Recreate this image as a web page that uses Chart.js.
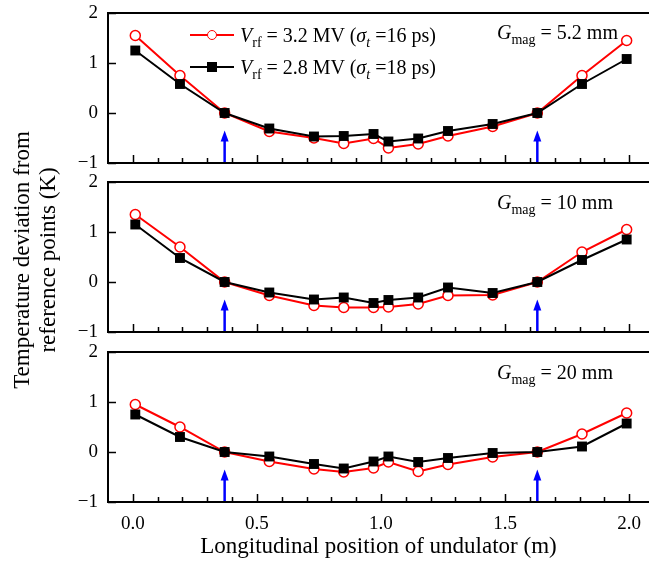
<!DOCTYPE html>
<html>
<head>
<meta charset="utf-8">
<script src="https://cdn.jsdelivr.net/npm/chart.js@4.4.1/dist/chart.umd.min.js"></script>
<style>
  html, body { margin:0; padding:0; background:#fff; }
  #wrap { position:relative; width:649px; height:563px; overflow:hidden; font-family:"Liberation Serif","Times New Roman",serif; color:#000; }
  canvas.pc { position:absolute; left:0; }
  .ann { position:absolute; font-size:20px; line-height:22px; white-space:nowrap; }
  .ann sub { font-size:14px; vertical-align:-5px; line-height:0; }
  .leg { position:absolute; left:190px; height:22px; font-size:20px; line-height:22px; white-space:nowrap; }
  .sample { position:absolute; left:0; top:0; width:44px; height:22px; }
  .sample .ln { position:absolute; left:0; top:10px; width:44px; height:2px; }
  .sample .mk { position:absolute; box-sizing:border-box; }
  .leg .txt { position:absolute; left:50px; top:0; }
  .leg sub { font-size:14px; vertical-align:-5px; line-height:0; }
  #ytitle { position:absolute; left:35px; top:260px; width:360px; transform:translate(-50%,-50%) rotate(-90deg); text-align:center; font-size:23px; line-height:26px; white-space:nowrap; }
</style>
</head>
<body>
<div id="wrap">
  <canvas id="c1" class="pc" width="649" height="175" style="top:0px;width:649px;height:175px"></canvas>
  <canvas id="c2" class="pc" width="649" height="175" style="top:169px;width:649px;height:175px"></canvas>
  <canvas id="c3" class="pc" width="649" height="224" style="top:339px;width:649px;height:224px"></canvas>

  <div class="leg" style="top:24px">
    <div class="sample"><div class="ln" style="background:#ff0000"></div><div class="mk" style="left:17px;top:6px;width:10px;height:10px;border:1.5px solid #ff0000;border-radius:50%;background:#fff"></div></div>
    <span class="txt"><i>V</i><sub>rf</sub> = 3.2 MV (<i>σ<sub>t</sub></i> =16 ps)</span>
  </div>
  <div class="leg" style="top:56px">
    <div class="sample"><div class="ln" style="background:#000"></div><div class="mk" style="left:17px;top:6px;width:10px;height:10px;background:#000"></div></div>
    <span class="txt"><i>V</i><sub>rf</sub> = 2.8 MV (<i>σ<sub>t</sub></i> =18 ps)</span>
  </div>

  <div class="ann" id="g1" style="left:497px;top:21px"></div>
  <div class="ann" id="g2" style="left:497px;top:191px"></div>
  <div class="ann" id="g3" style="left:497px;top:361px"></div>

  <div id="ytitle">Temperature deviation from<br>reference points (K)</div>
</div>
<script>
// ---------------- data ----------------
const xPositions = [0.01, 0.19, 0.37, 0.55, 0.73, 0.85, 0.97, 1.03, 1.15, 1.27, 1.45, 1.63, 1.81, 1.99];

const gapLabels = ["5.2 mm", "10 mm", "20 mm"];

// Vrf = 3.2 MV (sigma_t = 16 ps), red open circles
const red_G5_2 = [1.55, 0.75, 0, -0.37, -0.50, -0.61, -0.51, -0.70, -0.62, -0.46, -0.27, 0, 0.75, 1.45];
const red_G10  = [1.35, 0.70, 0, -0.27, -0.47, -0.51, -0.51, -0.50, -0.44, -0.27, -0.26, 0, 0.60, 1.05];
const red_G20  = [0.95, 0.50, 0, -0.19, -0.34, -0.40, -0.32, -0.20, -0.39, -0.25, -0.10, 0, 0.36, 0.78];

// Vrf = 2.8 MV (sigma_t = 18 ps), black filled squares
const blk_G5_2 = [1.25, 0.58, 0, -0.31, -0.47, -0.46, -0.42, -0.57, -0.51, -0.36, -0.22, 0, 0.58, 1.08];
const blk_G10  = [1.15, 0.48, 0, -0.21, -0.35, -0.31, -0.42, -0.36, -0.31, -0.11, -0.22, 0, 0.44, 0.85];
const blk_G20  = [0.75, 0.30, 0, -0.09, -0.24, -0.33, -0.19, -0.09, -0.20, -0.12, -0.02, 0, 0.11, 0.57];

const redLabel = "Vrf = 3.2 MV (σt =16 ps)";
const blkLabel = "Vrf = 2.8 MV (σt =18 ps)";

// reference points (blue arrows)
const arrowX = [0.37, 1.63];
const arrowTip = -0.35;

const xTickValues = [0.0, 0.5, 1.0, 1.5, 2.0];
const yTickValues = [-1, 0, 1, 2];
const xTitle = "Longitudinal position of undulator (m)";

// --------------- rendering ---------------
document.getElementById('g1').innerHTML = '<i>G</i><sub>mag</sub> = ' + gapLabels[0];
document.getElementById('g2').innerHTML = '<i>G</i><sub>mag</sub> = ' + gapLabels[1];
document.getElementById('g3').innerHTML = '<i>G</i><sub>mag</sub> = ' + gapLabels[2];

const FONT = "'Liberation Serif', 'Times New Roman', serif";

function pts(ys) { return xPositions.map((x, i) => ({x: x, y: ys[i]})); }

const framePlugin = {
  id: 'frame',
  afterDatasetsDraw(chart) {
    const {ctx, chartArea: a, scales: {x, y}} = chart;
    ctx.save();
    // blue arrows
    ctx.strokeStyle = '#0000ff';
    ctx.fillStyle = '#0000ff';
    ctx.lineWidth = 2.5;
    arrowX.forEach(v => {
      const px = x.getPixelForValue(v);
      const tip = y.getPixelForValue(arrowTip);
      ctx.beginPath();
      ctx.moveTo(px, a.bottom);
      ctx.lineTo(px, tip + 8);
      ctx.stroke();
      ctx.beginPath();
      ctx.moveTo(px, tip);
      ctx.lineTo(px - 4, tip + 11);
      ctx.lineTo(px + 4, tip + 11);
      ctx.closePath();
      ctx.fill();
    });
    // frame
    ctx.strokeStyle = '#000';
    ctx.lineWidth = 2;
    ctx.beginPath();
    ctx.moveTo(a.right + 2, a.top);
    ctx.lineTo(a.left, a.top);
    ctx.lineTo(a.left, a.bottom);
    ctx.lineTo(a.right + 2, a.bottom);
    ctx.stroke();
    // inward ticks
    ctx.lineWidth = 1.5;
    ctx.beginPath();
    for (let k = 0; k <= 20; k++) {
      const v = k / 10;
      const px = Math.round(x.getPixelForValue(v)) + 0.5;
      const len = (k % 5 === 0) ? 8 : 5;
      ctx.moveTo(px, a.bottom);
      ctx.lineTo(px, a.bottom - len);
    }
    yTickValues.forEach(v => {
      const py = Math.round(y.getPixelForValue(v)) + 0.5;
      ctx.moveTo(a.left, py);
      ctx.lineTo(a.left + 8, py);
    });
    ctx.stroke();
    ctx.restore();
  }
};

function makePanel(id, redYs, blkYs, isBottom) {
  const canvas = document.getElementById(id);
  return new Chart(canvas, {
    type: 'scatter',
    data: {
      datasets: [
        {
          label: blkLabel,
          data: pts(blkYs),
          showLine: true,
          borderColor: '#000000',
          backgroundColor: '#000000',
          borderWidth: 2,
          pointStyle: 'rect',
          pointRadius: 7,
          pointBorderWidth: 0,
          pointBackgroundColor: '#000000',
          clip: false,
          order: 0
        },
        {
          label: redLabel,
          data: pts(redYs),
          showLine: true,
          borderColor: '#ff0000',
          backgroundColor: '#ffffff',
          borderWidth: 2,
          pointStyle: 'circle',
          pointRadius: 5,
          pointBorderWidth: 1.5,
          pointBorderColor: '#ff0000',
          pointBackgroundColor: '#ffffff',
          clip: false,
          order: 1
        }
      ]
    },
    options: {
      responsive: false,
      animation: false,
      events: [],
      layout: { autoPadding: false, padding: { left: 0, right: 0, top: 13, bottom: isBottom ? 0 : 12 } },
      plugins: { legend: { display: false }, tooltip: { enabled: false }, title: { display: false } },
      scales: {
        x: {
          type: 'linear',
          min: -0.1,
          max: 2.08,
          grid: { display: false, drawTicks: false },
          border: { display: false },
          afterBuildTicks: s => { s.ticks = xTickValues.map(v => ({value: v})); },
          afterFit: s => { s.height = isBottom ? 61 : 0; s.paddingLeft = 0; s.paddingRight = 0; },
          ticks: {
            display: isBottom,
            autoSkip: false,
            maxRotation: 0,
            padding: 11,
            color: '#000',
            font: { family: FONT, size: 19 },
            callback: v => Number(v).toFixed(1)
          },
          title: {
            display: isBottom,
            text: xTitle,
            color: '#000',
            font: { family: FONT, size: 23 },
            padding: { top: 0, bottom: 2 }
          }
        },
        y: {
          type: 'linear',
          min: -1,
          max: 2,
          grid: { display: false, drawTicks: false },
          border: { display: false },
          afterBuildTicks: s => { s.ticks = yTickValues.map(v => ({value: v})); },
          afterFit: s => { s.width = 108; s.paddingTop = 0; s.paddingBottom = 0; },
          ticks: {
            padding: 10,
            color: '#000',
            font: { family: FONT, size: 19 },
            callback: v => (v < 0 ? '\u2212' + Math.abs(v) : String(v))
          }
        }
      }
    },
    plugins: [framePlugin]
  });
}

makePanel('c1', red_G5_2, blk_G5_2, false);
makePanel('c2', red_G10, blk_G10, false);
makePanel('c3', red_G20, blk_G20, true);
</script>
</body>
</html>
